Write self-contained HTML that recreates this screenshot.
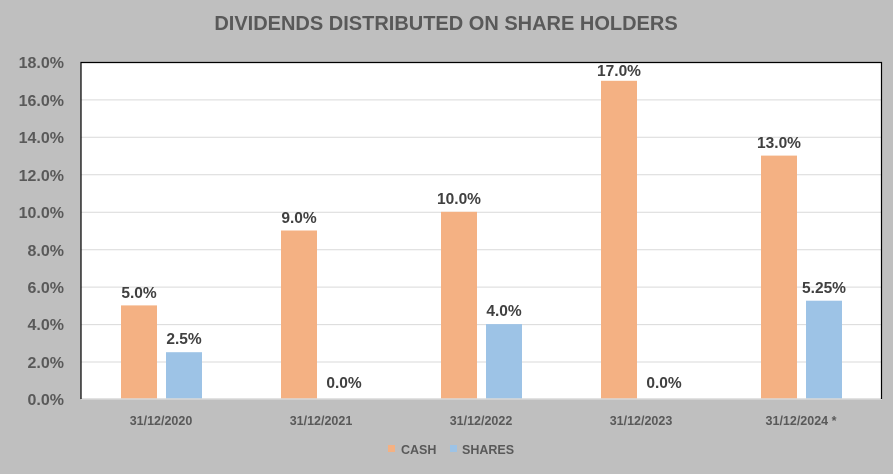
<!DOCTYPE html>
<html><head><style>
body{margin:0;background:#bfbfbf;}
text{font-family:"Liberation Sans",sans-serif;font-weight:bold;}
</style></head><body>
<svg width="893" height="469" xmlns="http://www.w3.org/2000/svg">
<rect width="893" height="469" fill="#bfbfbf"/>
<text x="446" y="30" text-anchor="middle" font-size="20" fill="#595959">DIVIDENDS DISTRIBUTED ON SHARE HOLDERS</text>
<rect x="81" y="62" width="801" height="337" fill="#fff"/>
<g stroke="#d9d9d9" stroke-width="1">
<line x1="81" x2="882" y1="99.9" y2="99.9"/><line x1="81" x2="882" y1="137.3" y2="137.3"/>
<line x1="81" x2="882" y1="174.8" y2="174.8"/><line x1="81" x2="882" y1="212.2" y2="212.2"/>
<line x1="81" x2="882" y1="249.7" y2="249.7"/><line x1="81" x2="882" y1="287.1" y2="287.1"/>
<line x1="81" x2="882" y1="324.6" y2="324.6"/><line x1="81" x2="882" y1="362" y2="362"/>
</g>
<g fill="#595959" font-size="16" text-anchor="end">
<text x="64" y="68">18.0%</text><text x="64" y="106">16.0%</text><text x="64" y="143">14.0%</text>
<text x="64" y="181">12.0%</text><text x="64" y="218">10.0%</text><text x="64" y="256">8.0%</text>
<text x="64" y="293">6.0%</text><text x="64" y="330">4.0%</text><text x="64" y="368">2.0%</text>
<text x="64" y="405">0.0%</text>
</g>
<g fill="#f4b183">
<rect x="121" y="305.4" width="36" height="93.6"/>
<rect x="281" y="230.5" width="36" height="168.5"/>
<rect x="441" y="211.8" width="36" height="187.2"/>
<rect x="601" y="80.8" width="36" height="318.2"/>
<rect x="761" y="155.6" width="36" height="243.4"/>
</g>
<g fill="#9dc3e6">
<rect x="166" y="352.2" width="36" height="46.8"/>
<rect x="486" y="324.1" width="36" height="74.9"/>
<rect x="806" y="300.7" width="36" height="98.3"/>
</g>
<line x1="81" x2="882" y1="399" y2="399" stroke="#d9d9d9" stroke-width="1.5"/>
<polyline points="81,399 81,62.5 881.5,62.5 881.5,399" fill="none" stroke="#000" stroke-width="1.2"/>
<g fill="#404040" font-size="15.5" text-anchor="middle">
<text x="139" y="298">5.0%</text><text x="184" y="344">2.5%</text>
<text x="299" y="223">9.0%</text><text x="344" y="388">0.0%</text>
<text x="459" y="204">10.0%</text><text x="504" y="316">4.0%</text>
<text x="619" y="76">17.0%</text><text x="664" y="388">0.0%</text>
<text x="779" y="148">13.0%</text><text x="824" y="293">5.25%</text>
</g>
<g fill="#595959" font-size="12.5" text-anchor="middle">
<text x="161" y="425">31/12/2020</text><text x="321" y="425">31/12/2021</text>
<text x="481" y="425">31/12/2022</text><text x="641" y="425">31/12/2023</text>
<text x="801" y="425">31/12/2024 *</text>
</g>
<rect x="388" y="445" width="7" height="7" fill="#f4b183"/>
<text x="401" y="454" font-size="12.5" fill="#595959">CASH</text>
<rect x="450" y="445" width="7" height="7" fill="#9dc3e6"/>
<text x="462" y="454" font-size="12.5" fill="#595959">SHARES</text>
</svg>
</body></html>
